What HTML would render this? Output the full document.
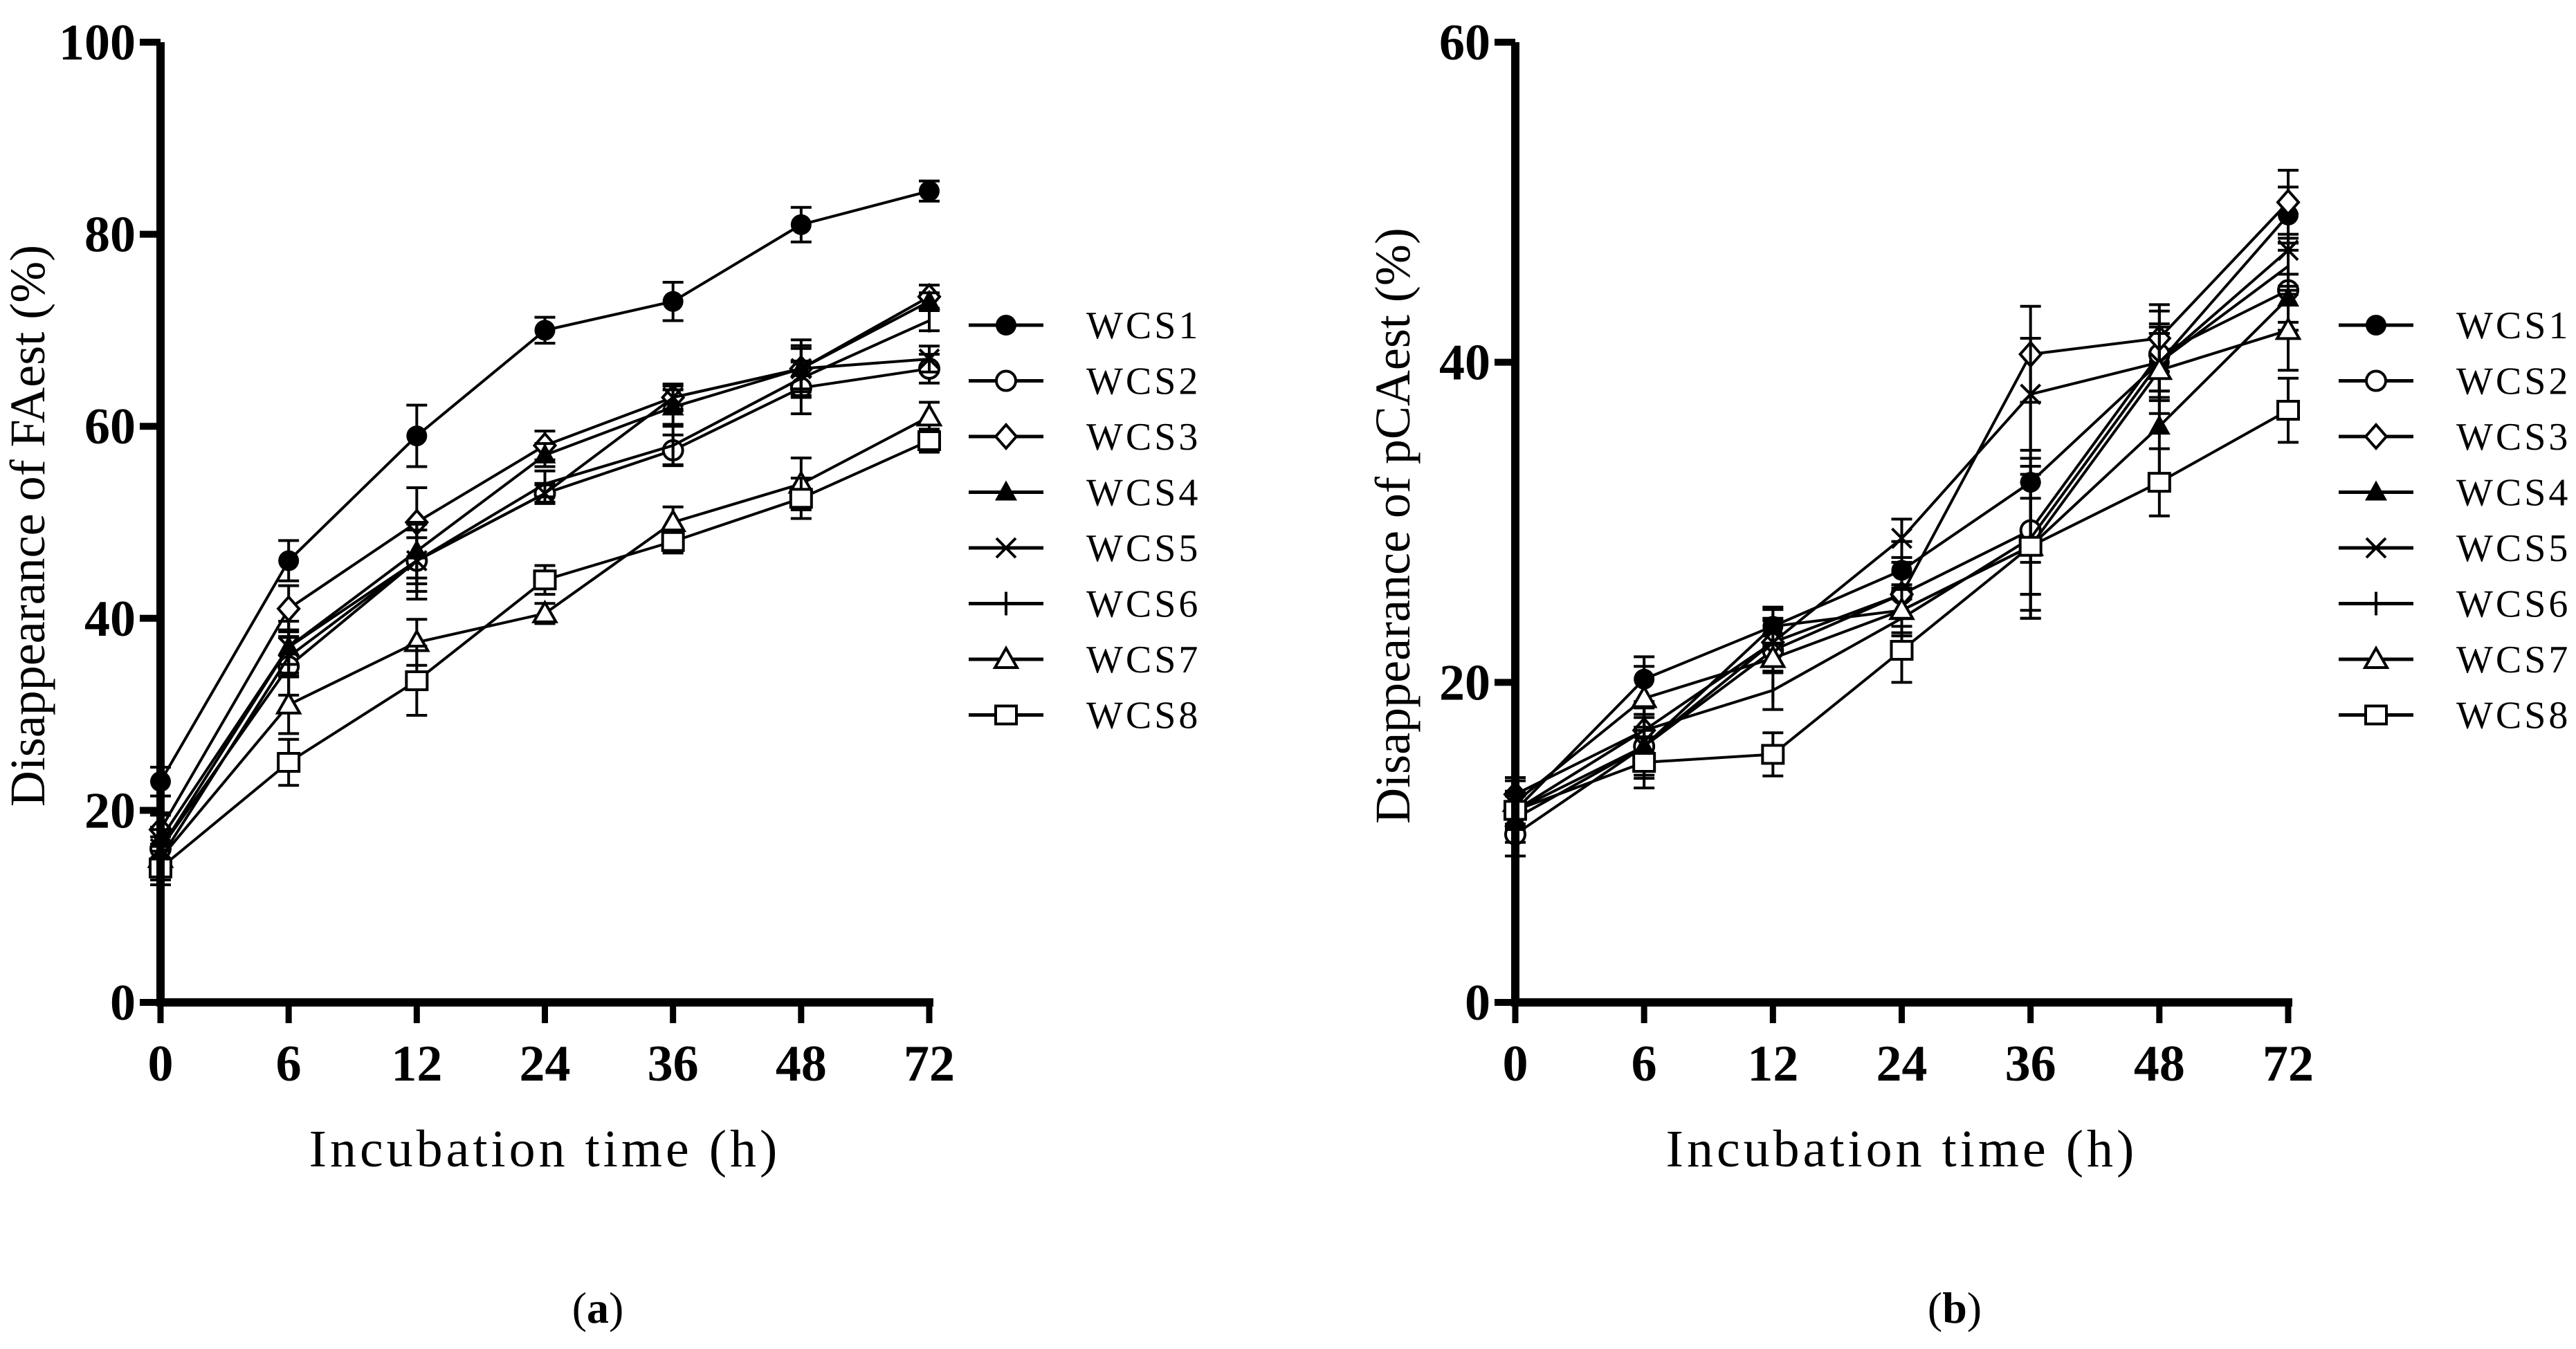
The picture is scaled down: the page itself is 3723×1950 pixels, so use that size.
<!DOCTYPE html>
<html><head><meta charset="utf-8"><style>
html,body{margin:0;padding:0;background:#fff}
svg{display:block}
text{font-family:"Liberation Serif",serif;fill:#000}
</style></head><body>
<svg id="fig" width="3723" height="1950" viewBox="0 0 3723 1950" xmlns="http://www.w3.org/2000/svg">
<g id="chartA"></g>
<g id="chartB"></g>
<text x="864" y="1912" font-size="64" text-anchor="middle">(<tspan font-weight="bold">a</tspan>)</text>
<text x="2825" y="1912" font-size="64" text-anchor="middle">(<tspan font-weight="bold">b</tspan>)</text>
</svg>
<script>
const categories = ["0","6","12","24","36","48","72"];
const seriesNames = ["WCS1","WCS2","WCS3","WCS4","WCS5","WCS6","WCS7","WCS8"];
const markers = ["fcircle","ocircle","diamond","ftri","x","plus","otri","square"];
const yTicksA = [0,20,40,60,80,100];
const yTicksB = [0,20,40,60];
// Panel a: FAest
const faWCS1 = [23,46,59,70,73,81,84.5];
const faWCS2 = [16,35,46,53,57.5,64,66];
const faWCS3 = [18,41,50,58,63,66,73.5];
const faWCS4 = [17,37,47,57,62,66,73];
const faWCS5 = [16,37,46,53,63,66,67];
const faWCS6 = [15,36,46,54,58,65,71];
const faWCS7 = [15,31,37.5,40.5,50,54,61];
const faWCS8 = [14,25,33.5,44,48,52.5,58.5];
const faErr = [2.5,3,4,1.5,2,3,1.5];
// Panel b: pCAest
const pcWCS1 = [12,20.2,23.5,27,32.5,40,49.2];
const pcWCS2 = [10.5,16,22,25.5,29.5,40.5,44.5];
const pcWCS3 = [13,17,22.5,25.5,40.5,41.5,50];
const pcWCS4 = [11.5,16,23.5,24.5,28.5,36,44];
const pcWCS5 = [12,16,22.5,29,38,40,47];
const pcWCS6 = [12,17,19.5,24,29,40,46];
const pcWCS7 = [12.5,19,21.5,24.5,28.5,39.5,42];
const pcWCS8 = [12,15,15.5,22,28.5,32.5,37];
const pcErr = [1.5,2,1.5,2,5,3,2.5];

const NS="http://www.w3.org/2000/svg";
function mk(parent,tag,attrs){const e=document.createElementNS(NS,tag);for(const k in attrs)e.setAttribute(k,attrs[k]);parent.appendChild(e);return e;}

function marker(g,type,cx,cy){
  const r=15, sw=4;
  let e;
  if(type==="fcircle"){e=mk(g,"circle",{cx:cx,cy:cy,r:r,fill:"#000"});}
  else if(type==="ocircle"){e=mk(g,"circle",{cx:cx,cy:cy,r:r-1,fill:"#fff",stroke:"#000","stroke-width":sw});}
  else if(type==="diamond"){e=mk(g,"polygon",{points:`${cx},${cy-17} ${cx+15},${cy} ${cx},${cy+17} ${cx-15},${cy}`,fill:"#fff",stroke:"#000","stroke-width":sw});}
  else if(type==="ftri"){e=mk(g,"polygon",{points:`${cx},${cy-17} ${cx+16},${cy+12} ${cx-16},${cy+12}`,fill:"#000"});}
  else if(type==="otri"){e=mk(g,"polygon",{points:`${cx},${cy-16} ${cx+16},${cy+12} ${cx-16},${cy+12}`,fill:"#fff",stroke:"#000","stroke-width":sw});}
  else if(type==="square"){e=mk(g,"rect",{x:cx-15,y:cy-13,width:30,height:26,fill:"#fff",stroke:"#000","stroke-width":sw});}
  else if(type==="x"){e=mk(g,"path",{d:`M${cx-14},${cy-14}L${cx+14},${cy+14}M${cx+14},${cy-14}L${cx-14},${cy+14}`,stroke:"#000","stroke-width":sw,fill:"none"});}
  else {e=mk(g,"path",{d:`M${cx},${cy-17}L${cx},${cy+17}`,stroke:"#000","stroke-width":sw,fill:"none"});}
  
  
}

function drawChart(g,cfg){
  const x0=cfg.x0,x1=cfg.x1,yTop=61,yBot=1449;
  const xs=i=>x0+(x1-x0)*i/(categories.length-1);
  const ys=v=>yBot-(yBot-yTop)*v/cfg.ymax;
  cfg.series.forEach((vals,si)=>{
    const sg=mk(g,"g",{});
    
    
    const pl=mk(sg,"polyline",{points:vals.map((v,i)=>xs(i)+","+ys(v)).join(" "),fill:"none",stroke:"#000","stroke-width":4});
    
    
    vals.forEach((v,i)=>{
      const e=cfg.err[i]*(0.6+0.1*((si*3+i)%5));
      const eb=mk(sg,"path",{d:`M${xs(i)},${ys(v-e)}L${xs(i)},${ys(v+e)}M${xs(i)-15},${ys(v-e)}L${xs(i)+15},${ys(v-e)}M${xs(i)-15},${ys(v+e)}L${xs(i)+15},${ys(v+e)}`,stroke:"#000","stroke-width":4,fill:"none"});
      
      
    });
    vals.forEach((v,i)=>marker(sg,markers[si],xs(i),ys(v)));
  });
  const ax=mk(g,"path",{d:`M${x0},${yTop}L${x0},${yBot}M${x0-6},${yBot}L${x1+6},${yBot}`,stroke:"#000","stroke-width":12,fill:"none"});
  
  
  cfg.yTicks.forEach(t=>{
    const y=ys(t);
    mk(g,"path",{d:`M${x0-30},${y}L${x0},${y}`,stroke:"#000","stroke-width":10});
    const tx=mk(g,"text",{x:x0-36,y:y+25,"font-size":74,"font-weight":"bold","text-anchor":"end"});
    tx.textContent=t;
    
    
  });
  categories.forEach((c,i)=>{
    mk(g,"path",{d:`M${xs(i)},${yBot}L${xs(i)},${yBot+30}`,stroke:"#000","stroke-width":9});
    const tx=mk(g,"text",{x:xs(i),y:1562,"font-size":74,"font-weight":"bold","text-anchor":"middle"});
    tx.textContent=c;
    
    
  });
  const xt=mk(g,"text",{x:(x0+x1)/2,y:1686,"font-size":76,"text-anchor":"middle","letter-spacing":"5"});
  xt.textContent="Incubation time (h)";
  
  
  const yt=mk(g,"text",{x:0,y:0,"font-size":72,"text-anchor":"middle",transform:`translate(${cfg.ytx},760) rotate(-90)`});
  yt.textContent=cfg.ytitle;
  
  
  const lg=mk(g,"g",{});
  
  
  seriesNames.forEach((n,i)=>{
    const y=470+i*80.5;
    const eg=mk(lg,"g",{});
    
    
    mk(eg,"path",{d:`M${cfg.lx},${y}L${cfg.lx+108},${y}`,stroke:"#000","stroke-width":5});
    marker(eg,markers[i],cfg.lx+54,y);
    const t=mk(eg,"text",{x:cfg.lx+170,y:y+19,"font-size":56,"letter-spacing":"4"});
    t.textContent=n;
  });
}
drawChart(document.getElementById("chartA"),{x0:232,x1:1343,ymax:100,yTicks:yTicksA,err:faErr,
  series:[faWCS1,faWCS2,faWCS3,faWCS4,faWCS5,faWCS6,faWCS7,faWCS8],ytitle:"Disappearance of FAest (%)",ytx:64,lx:1400});
drawChart(document.getElementById("chartB"),{x0:2190,x1:3307,ymax:60,yTicks:yTicksB,err:pcErr,
  series:[pcWCS1,pcWCS2,pcWCS3,pcWCS4,pcWCS5,pcWCS6,pcWCS7,pcWCS8],ytitle:"Disappearance of pCAest (%)",ytx:2037,lx:3380});
</script>
</body></html>
